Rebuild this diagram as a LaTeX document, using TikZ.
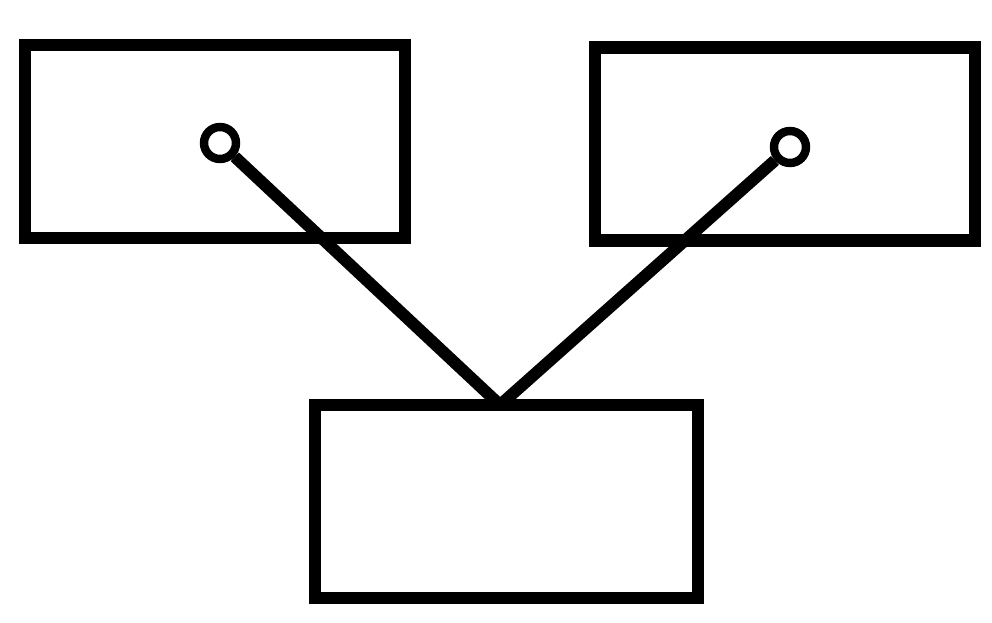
\documentclass[tikz,border=0pt]{standalone}
\usepackage{tikz}

\begin{document}
\begin{tikzpicture}[
    box/.style={draw=black, line width=3.6pt, minimum width=3.8cm, minimum height=1.93cm, inner sep=0pt},
    pin/.style={circle, draw=black, line width=2.4pt, fill=white, minimum size=0.32cm, inner sep=0pt},
    link/.style={line width=3.4pt}
]

% Frame (keeps the margins of the reference)
\useasboundingbox (0,0) rectangle (9.92,6.23);

% === Boxes ===
\node[box] (leftbox) at (2.15,4.815) {};
\node[box] (rightbox) at (7.85,4.79) {};
\node[box, minimum width=3.83cm] (lowbox) at (5.065,1.215) {};

% === Pins inside the upper boxes ===
\node[pin] (leftpin) at (2.20,4.80) {};
\node[pin] (rightpin) at (7.90,4.76) {};

% === Links down to the lower box ===
\coordinate (meet) at (5.0,2.18);
\draw[link] (leftpin) -- (meet);
\draw[link] (rightpin) -- (meet);

\end{tikzpicture}
\end{document}
